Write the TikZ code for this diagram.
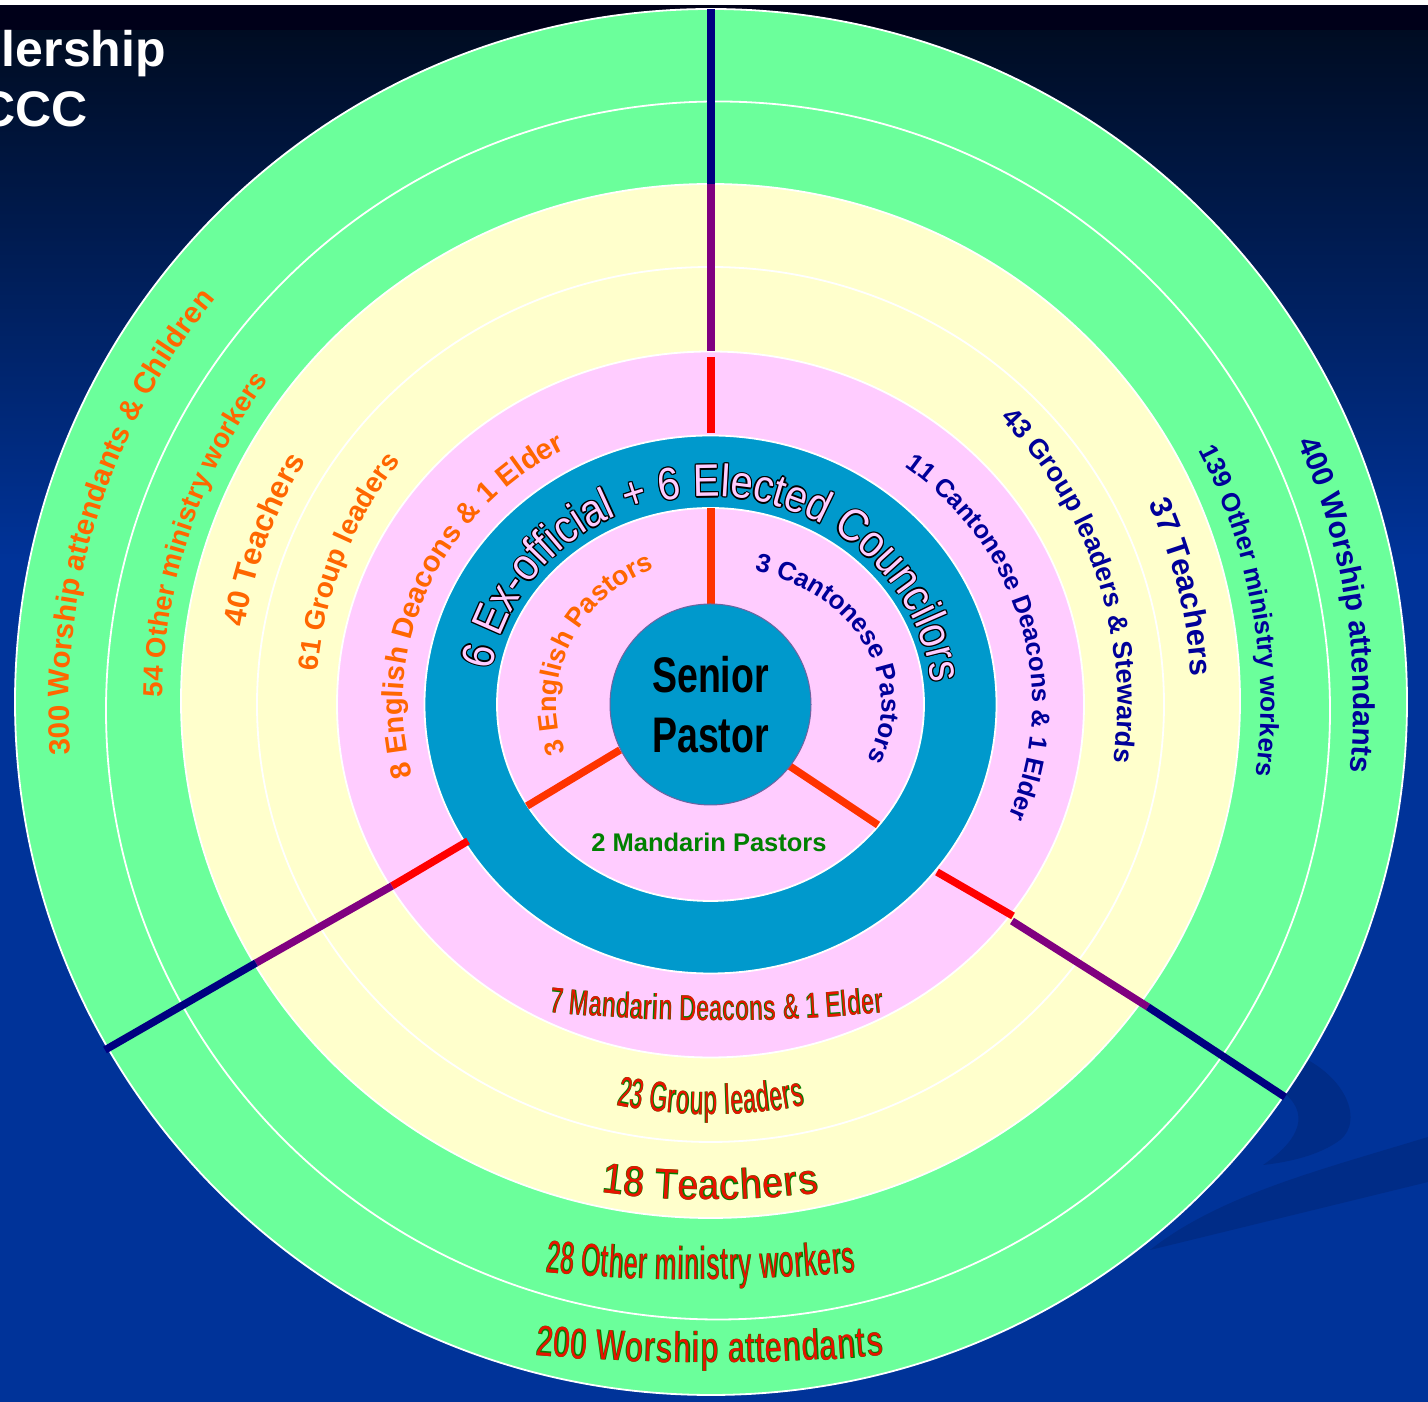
\documentclass[tikz,border=0pt]{standalone}
\usepackage{fontspec}
\setmainfont{Liberation Sans}
\usepackage{graphicx}
\definecolor{ringgreen}{RGB}{107,255,155}
\definecolor{ringyellow}{RGB}{255,255,204}
\definecolor{ringpink}{RGB}{255,204,255}
\definecolor{ringblue}{RGB}{0,153,204}
\definecolor{engorange}{RGB}{255,102,0}
\definecolor{cannavy}{RGB}{0,0,153}
\definecolor{mangreen}{RGB}{0,128,0}
\definecolor{manred}{RGB}{230,20,0}
\definecolor{spokered}{RGB}{255,0,0}
\definecolor{spokeorange}{RGB}{255,51,0}
\definecolor{spokepurple}{RGB}{128,0,128}
\definecolor{spokenavy}{RGB}{0,0,128}
\definecolor{bgtop}{RGB}{0,12,34}
\definecolor{bgbot}{RGB}{0,51,153}
\definecolor{swoosh}{RGB}{0,44,135}
\definecolor{spedge}{RGB}{110,100,160}
\newcommand{\fs}[1]{\fontsize{#1}{#1}\selectfont}
% text set letter by letter on an elliptic arc, centred on a given angle
\ExplSyntaxOn
\fp_new:N \l__arc_t_fp
\fp_new:N \l__arc_w_fp
\fp_new:N \l__arc_tc_fp
\fp_new:N \l__arc_tot_fp
\tl_new:N \l__arc_x_tl
\tl_new:N \l__arc_y_tl
\tl_new:N \l__arc_r_tl
\tl_new:N \l__arc_ax_tl
\tl_new:N \l__arc_bx_tl
\tl_new:N \l__arc_dum_tl
\cs_new:Npn \__arc_speed:nnn #1#2#3 { sqrt( ((#1)*sind(#3))^2 + ((#2)*cosd(#3))^2 ) }
\cs_new_protected:Npn \__arc_measure:nnn #1#2#3
 {
  \node [anchor=base~west, inner~sep=0pt, outer~sep=0pt, opacity=0] ~(arcm)~at~(-4000,-4000)~{#1\scalebox{#2}[1]{#3}};
  \path ~(arcm.base~west); \pgfgetlastxy{\l__arc_ax_tl}{\l__arc_dum_tl}
  \path ~(arcm.base~east); \pgfgetlastxy{\l__arc_bx_tl}{\l__arc_dum_tl}
  \fp_set:Nn \l__arc_w_fp { \dim_to_fp:n {\l__arc_bx_tl} - \dim_to_fp:n {\l__arc_ax_tl} }
 }
\NewDocumentCommand \arctext { O{} m m m m m m m m }
 {
  \fp_zero:N \l__arc_tot_fp
  \str_map_inline:nn {#9}
   {
    \__arc_measure:nnn {#6} {#7} {##1}
    \fp_add:Nn \l__arc_tot_fp { \l__arc_w_fp }
   }
  \fp_set:Nn \l__arc_t_fp
   { (#4) - (#5) * \l__arc_tot_fp / 2 / (\__arc_speed:nnn {#2}{#3}{#4}) * 180 / pi }
  \str_map_inline:nn {#9}
   {
    \__arc_measure:nnn {#6} {#7} {##1}
    \fp_set:Nn \l__arc_tc_fp
     { \l__arc_t_fp + (#5) * \l__arc_w_fp / 2 / (\__arc_speed:nnn {#2}{#3}{\l__arc_t_fp}) * 180 / pi }
    \tl_set:Nx \l__arc_x_tl { \fp_eval:n { round((#2)*cosd(\l__arc_tc_fp), 3) } }
    \tl_set:Nx \l__arc_y_tl { \fp_eval:n { round((#3)*sind(\l__arc_tc_fp), 3) } }
    \tl_set:Nx \l__arc_r_tl
     { \fp_eval:n { round(atand((#3)*cosd(\l__arc_tc_fp), -(#2)*sind(\l__arc_tc_fp)) + ((#5) < 0) * 180, 3) } }
    \str_if_eq:nnF {##1} {~}
     {
      \node [anchor=base, inner~sep=0pt, outer~sep=0pt, text=#8, rotate=\l__arc_r_tl]
        ~at~(\l__arc_x_tl,\l__arc_y_tl)~{#6#1\scalebox{#7}[1]{##1}};
     }
    \fp_set:Nn \l__arc_t_fp
     { \l__arc_tc_fp + (#5) * \l__arc_w_fp / 2 / (\__arc_speed:nnn {#2}{#3}{\l__arc_tc_fp}) * 180 / pi }
   }
 }
\ExplSyntaxOff
\tikzset{
  ring/.style={draw=white,line width=1.8pt},
  spoke/.style={line width=7.5pt},
  spcircle/.style={circle,fill=ringblue,draw=spedge,line width=1pt,minimum size=201pt,inner sep=0pt,align=center,font=\bfseries\fontsize{50}{60}\selectfont},
  titletext/.style={text=white,font=\bfseries\fs{50},inner sep=0pt,anchor=base east}
}

\begin{document}
\begin{tikzpicture}[x=1pt,y=1pt]
    \useasboundingbox (0,0) rectangle (1428,1402);
    \coordinate (C) at (710.5,697.5);
    % background
    \fill[bgbot] (0,0) rectangle (1428,842);
    \shade[top color=bgtop,bottom color=bgbot] (0,842) rectangle (1428,1372);
    \fill[black!90!blue] (0,1372) rectangle (1428,1397);
    \fill[white] (0,1397) rectangle (1428,1402);
    \fill[swoosh] (1285,352) .. controls (1345,332) and (1365,282) .. (1340,262)
        .. controls (1320,247) and (1290,240) .. (1263,237)
        .. controls (1300,262) and (1312,290) .. (1280,312) -- cycle;
    \fill[swoosh] (1150,152) .. controls (1220,207) and (1320,232) .. (1428,265)
        -- (1428,220) -- cycle;
    % title
    \node[titletext] (t1) at (166,1335) {lership};
    \node[titletext] (t2) at (88,1275) {CCC};
    % rings
    \draw[ring,fill=ringgreen] (711,700) ellipse [x radius=696,y radius=693];
    \draw[ring,fill=ringgreen] (718,691.5) ellipse [x radius=612,y radius=609];
    \draw[ring,fill=ringyellow] (710.5,701) ellipse [x radius=529.5,y radius=517];
    \draw[ring,fill=ringyellow] (C) ellipse [x radius=453.5,y radius=437.5];
    \draw[ring,fill=ringpink] (C) ellipse [x radius=373.5,y radius=353];
    \draw[ring,fill=ringblue] (C) ellipse [x radius=286,y radius=269];
    \draw[ring,fill=ringpink] (C) ellipse [x radius=213.5,y radius=196.5];
    % spokes
    \draw[spoke,spokenavy] (711,1393) -- (711,1218);
    \draw[spoke,spokepurple] (711,1218) -- (711,1051);
    \draw[spoke,spokered] (711,1045) -- (711,969);
    \draw[spoke,spokeorange] (711,894) -- (711,798);
    \draw[spoke,spokeorange] (785,639) -- (878,577);
    \draw[spoke,spokered] (937,530) -- (1013,486);
    \draw[spoke,spokepurple] (1012,481) -- (1148,395);
    \draw[spoke,spokenavy] (1148,395) -- (1285,305);
    \draw[spoke,spokeorange] (620,652) -- (527,596);
    \draw[spoke,spokered] (468,561) -- (392,516);
    \draw[spoke,spokepurple] (392,516) -- (256,439);
    \draw[spoke,spokenavy] (256,439) -- (105,352);
    % centre
    \node[spcircle] (sp) at (C) {\scalebox{0.75}[1]{Senior}\\\scalebox{0.75}[1]{Pastor}};
    \node[font=\bfseries\fs{25.5},text=mangreen,inner sep=0pt] (mp) at (709,560) {2 Mandarin Pastors};
    \begin{scope}[shift={(C)}]
    % english
    \arctext{641.5}{637.5}{162.5}{-1}{\bfseries\fs{29.5}}{1}{engorange}{300 Worship attendants & Children}
    \arctext{548}{548}{161.5}{-1}{\bfseries\fs{27.5}}{1}{engorange}{54 Other ministry workers}
    \arctext{472.5}{472.5}{159.75}{-1}{\bfseries\fs{31}}{1}{engorange}{40 Teachers}
    \arctext{394}{394}{158.5}{-1}{\bfseries\fs{28}}{1}{engorange}{61 Group leaders}
    \arctext{307.6}{289.6}{156}{-1}{\bfseries\fs{29}}{1}{engorange}{8 English Deacons & 1 Elder}
    \arctext{153.7}{145.7}{155}{-1}{\bfseries\fs{27}}{1}{engorange}{3 English Pastors}
    % cantonese
    \arctext{643}{643}{9}{-1}{\bfseries\fs{30}}{1}{cannavy}{400 Worship attendants}
    \arctext{550}{550}{10}{-1}{\bfseries\fs{26}}{1}{cannavy}{139 Other ministry workers}
    \arctext{481.5}{481.5}{14}{-1}{\bfseries\fs{31}}{1}{cannavy}{37 Teachers}
    \arctext{407}{407}{18.25}{-1}{\bfseries\fs{27}}{1}{cannavy}{43 Group leaders & Stewards}
    \arctext{321.7}{298.7}{15}{-1}{\bfseries\fs{25.5}}{1}{cannavy}{11 Cantonese Deacons & 1 Elder}
    \arctext{171}{138}{24}{-1}{\bfseries\fs{26}}{1}{cannavy}{3 Cantonese Pastors}
    % council
    \foreach \a in {0,45,...,315}{
        \begin{scope}[shift={(\a:1.3)}]
        \arctext{222}{208}{90.5}{-1}{\fs{45.5}}{0.88}{black}{6 Ex-official + 6 Elected Councilors}
        \end{scope}
    }
    \arctext{222}{208}{90.5}{-1}{\fs{45.5}}{0.88}{ringpink}{6 Ex-official + 6 Elected Councilors}
    \end{scope}
    % mandarin
    \begin{scope}[shift={(717,2026)}]
    \arctext{1645}{1645}{270}{1}{\bfseries\fs{36}}{0.65}{mangreen}{7 Mandarin Deacons & 1 Elder}
    \arctext[\mdseries]{1645}{1645}{270}{1}{\bfseries\fs{36}}{0.65}{manred}{7 Mandarin Deacons & 1 Elder}
    \end{scope}
    \begin{scope}[shift={(711,763)}]
    \arctext{476}{476}{270}{1}{\bfseries\fs{42.5}}{0.55}{mangreen}{23 Group leaders}
    \arctext[\mdseries]{476}{476}{270}{1}{\bfseries\fs{42.5}}{0.55}{manred}{23 Group leaders}
    \end{scope}
    \begin{scope}[shift={(711,1027)}]
    \arctext{825}{825}{270}{1}{\bfseries\fs{43}}{0.88}{mangreen}{18 Teachers}
    \arctext[\mdseries]{825}{825}{270}{1}{\bfseries\fs{43}}{0.88}{manred}{18 Teachers}
    \end{scope}
    \begin{scope}[shift={(701,1651)}]
    \arctext{1529}{1529}{270}{1}{\bfseries\fs{46}}{0.55}{mangreen}{28 Other ministry workers}
    \arctext[\mdseries]{1529}{1529}{270}{1}{\bfseries\fs{46}}{0.55}{manred}{28 Other ministry workers}
    \end{scope}
    \begin{scope}[shift={(710,2085)}]
    \arctext{2046}{2046}{270}{1}{\bfseries\fs{43}}{0.72}{mangreen}{200 Worship attendants}
    \arctext[\mdseries]{2046}{2046}{270}{1}{\bfseries\fs{43}}{0.72}{manred}{200 Worship attendants}
    \end{scope}
\end{tikzpicture}
\end{document}
